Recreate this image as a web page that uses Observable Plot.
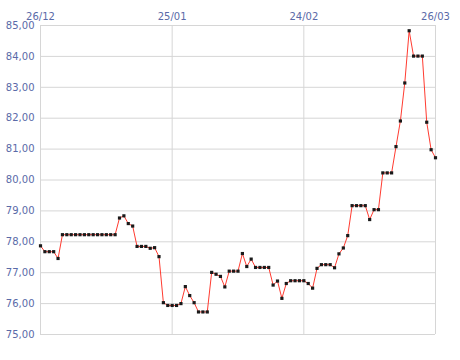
<!DOCTYPE html>
<html>
<head>
<meta charset="utf-8">
<script src="https://cdn.jsdelivr.net/npm/d3@7"></script>
<script src="https://cdn.jsdelivr.net/npm/@observablehq/plot@0.6"></script>
<style>
  html, body { margin: 0; padding: 0; background: #fff; }
  #chart svg { display: block; }
</style>
</head>
<body>
<div id="chart"></div>
<script>
// Daily series, one value per day starting 26/12
const startDate = "2022-12-26";
const values = [
  77.87, 77.68, 77.68, 77.68, 77.46,
  78.23, 78.23, 78.23, 78.23, 78.23, 78.23, 78.23, 78.23, 78.23, 78.23, 78.23, 78.23, 78.23,
  78.77, 78.84, 78.59, 78.51, 77.85, 77.85, 77.85, 77.79, 77.81, 77.52,
  76.03, 75.94, 75.94, 75.94, 76.00, 76.55, 76.26, 76.03, 75.73, 75.73, 75.73,
  77.01, 76.95, 76.88, 76.54, 77.05, 77.05, 77.05, 77.62, 77.20, 77.44,
  77.17, 77.17, 77.17, 77.17, 76.60, 76.73, 76.17, 76.65, 76.74, 76.74, 76.74, 76.74,
  76.65, 76.50, 77.14, 77.26, 77.26, 77.26, 77.16, 77.61, 77.80, 78.20,
  79.17, 79.17, 79.17, 79.17, 78.72, 79.04, 79.04, 80.23, 80.23, 80.23,
  81.08, 81.91, 83.14, 84.83, 84.01, 84.01, 84.01, 81.87, 80.98, 80.72
];
const xTickDates = ["2022-12-26", "2023-01-25", "2023-02-24", "2023-03-26"];
const yTicks = [75, 76, 77, 78, 79, 80, 81, 82, 83, 84, 85];

const start = new Date(startDate + "T00:00:00Z");
const data = values.map((v, i) => ({ date: d3.utcDay.offset(start, i), value: v }));
const xTicks = xTickDates.map(s => new Date(s + "T00:00:00Z"));

const labelColor = "#5a6aa8";
const gridColor = "#d6d6d6";
const fmtY = d => d.toFixed(2).replace(".", ",");

const chart = Plot.plot({
  width: 460,
  height: 360,
  marginLeft: 40,
  marginRight: 25,
  marginTop: 25,
  marginBottom: 26,
  style: { fontFamily: "DejaVu Sans, sans-serif", fontSize: "10px", background: "#fff" },
  x: { type: "utc", domain: [xTicks[0], xTicks[3]] },
  y: { domain: [75, 85] },
  marks: [
    Plot.ruleY(yTicks, { stroke: gridColor, strokeWidth: 1 }),
    Plot.ruleX(xTicks, { stroke: gridColor, strokeWidth: 1 }),
    Plot.axisX({ anchor: "top", ticks: xTicks, tickFormat: d3.utcFormat("%d/%m"), tickSize: 0, tickPadding: 6, color: labelColor, label: null }),
    Plot.axisY({ ticks: yTicks, tickFormat: fmtY, tickSize: 0, tickPadding: 6, color: labelColor, label: null }),
    Plot.line(data, { x: "date", y: "value", stroke: "#ff3b30", strokeWidth: 1 }),
    Plot.dot(data, { x: "date", y: "value", symbol: "square", r: 1.8, fill: "#1a1a1a", stroke: "none" })
  ]
});
document.getElementById("chart").appendChild(chart);
</script>
</body>
</html>
